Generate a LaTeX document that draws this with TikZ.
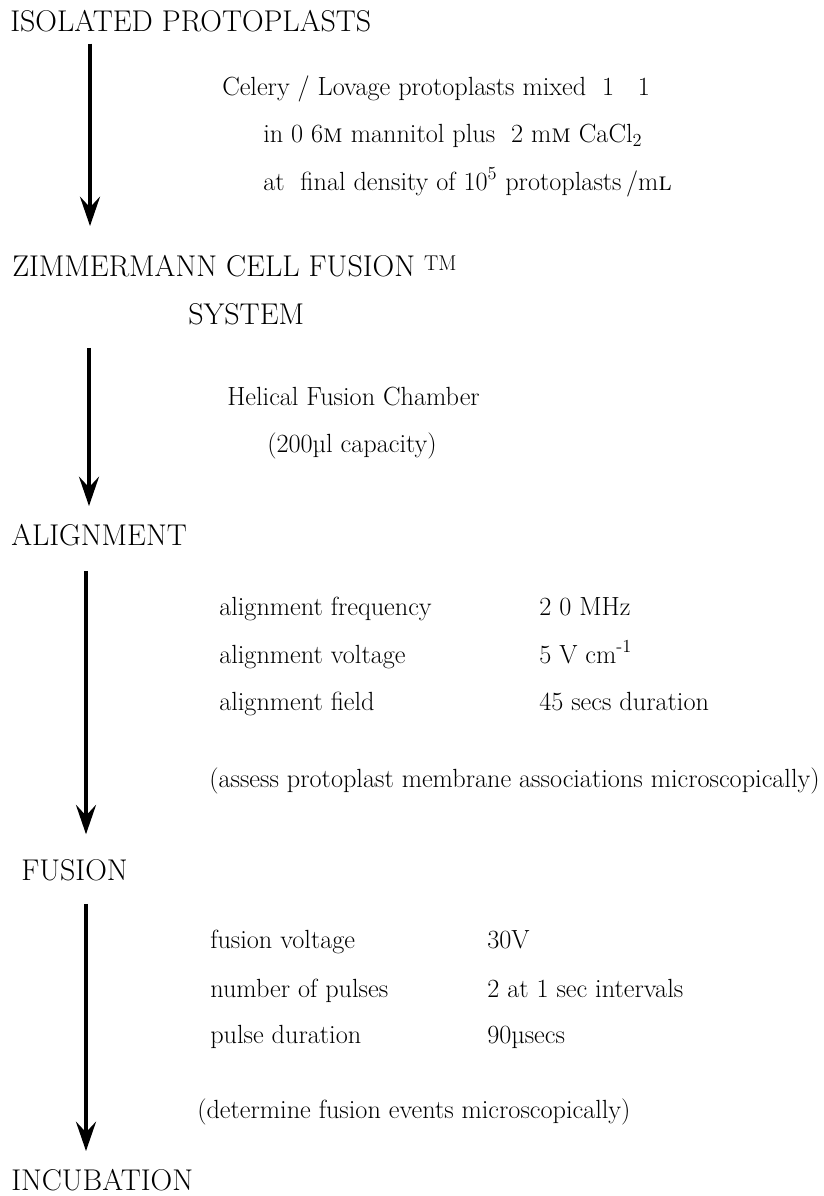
\documentclass[tikz,border=0pt]{standalone}
\usepackage{tikz}
\usetikzlibrary{arrows.meta,calc}
\newcommand\hdfont{\fontsize{22.5}{27}\selectfont}
\newcommand\txtfont{\fontsize{19.7}{24}\selectfont}
\tikzset{
  head/.style={anchor=base west,inner sep=0pt,font=\hdfont},
  note/.style={anchor=base west,inner sep=0pt,font=\txtfont},
  flow/.style={line width=3pt,-{Stealth[length=22pt,width=15pt,inset=8pt]}}
}
\begin{document}
\begin{tikzpicture}[x=0.75pt,y=-0.75pt]
\path[use as bounding box,fill=white] (0,0) rectangle (824,1196);
% stages
\node[head] (iso) at (10,31) {ISOLATED PROTOPLASTS};
\node[head] (zim) at (12,276) {ZIMMERMANN CELL FUSION \raisebox{4pt}{\fontsize{16}{16}\selectfont TM}};
\node[head] (sys) at (188,324) {SYSTEM};
\node[head] (aln) at (11,545) {ALIGNMENT};
\node[head] (fus) at (21,880) {FUSION};
\node[head] (inc) at (11,1190) {INCUBATION};
% conditions
\node[note] (mix) at (222,95) {Celery / Lovage protoplasts mixed\ \ 1\ \ \ 1};
\node[note] (med) at (263,142) {in 0 6\textsc{m} mannitol plus\ \ 2 m\textsc{m} CaCl\textsubscript{2}};
\node[note] (den) at (263,190) {at\ \ final density of 10\textsuperscript{5} protoplasts\,/m\textsc{l}};
\node[note] (chm) at (227,405) {Helical Fusion Chamber};
\node[note] (cap) at (267,452) {(200\textmu l capacity)};
\node[note] (afq) at (219,615) {alignment frequency};
\node[note] (afqv) at (539,615) {2 0 MHz};
\node[note] (avl) at (219,663) {alignment voltage};
\node[note] (avlv) at (539,663) {5 V cm\textsuperscript{-1}};
\node[note] (afd) at (219,710) {alignment field};
\node[note] (afdv) at (539,710) {45 secs duration};
\node[note] (ass) at (209,787) {(assess protoplast membrane associations microscopically)};
\node[note] (fvl) at (210,948) {fusion voltage};
\node[note] (fvlv) at (487,948) {30V};
\node[note] (npl) at (210,997) {number of pulses};
\node[note] (nplv) at (487,997) {2 at 1 sec intervals};
\node[note] (pdr) at (210,1043) {pulse duration};
\node[note] (pdrv) at (487,1043) {90\textmu secs};
\node[note] (det) at (197,1118) {(determine fusion events microscopically)};
% arrows
\draw[flow] ($(iso.south -| 90,0)+(0,12)$) -- ($(zim.north -| 90,0)+(0,-28.5)$);
\draw[flow] ($(sys.south -| 89,0)+(0,23)$) -- ($(aln.north -| 89,0)+(0,-17.5)$);
\draw[flow] ($(aln.south -| 86,0)+(0,25)$) -- ($(fus.north -| 86,0)+(0,-24.5)$);
\draw[flow] ($(fus.south -| 86,0)+(0,23)$) -- ($(inc.north -| 86,0)+(0,-17.5)$);
\end{tikzpicture}
\end{document}
